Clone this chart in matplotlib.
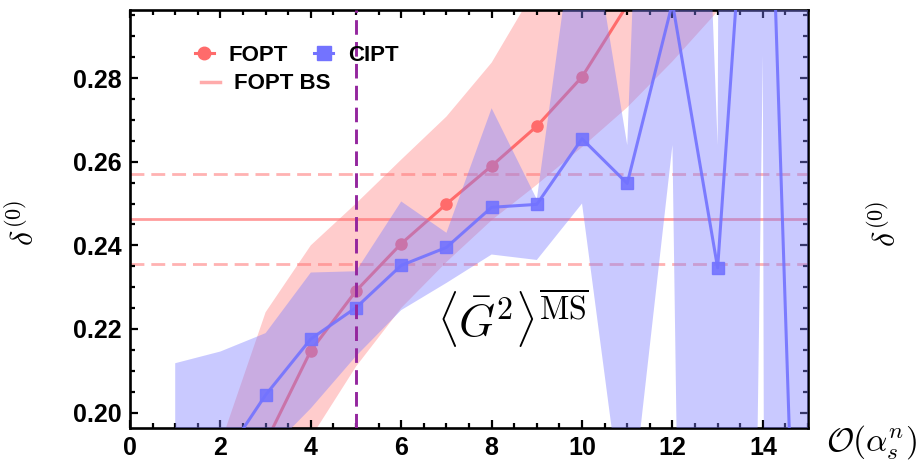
import matplotlib
matplotlib.use("Agg")
import matplotlib.pyplot as plt
from matplotlib.lines import Line2D
from matplotlib.ticker import MultipleLocator, FormatStrFormatter

plt.rcParams["font.family"] = ["Liberation Sans", "DejaVu Sans"]
plt.rcParams["font.weight"] = "bold"
plt.rcParams["mathtext.fontset"] = "cm"

# FOPT central values
fopt_n = [3, 4, 5, 6, 7, 8, 9, 10, 11]
fopt_val = [0.1928, 0.2148, 0.2291, 0.2404, 0.2499, 0.2590, 0.2685, 0.2803, 0.2975]

# FOPT band edges
fopt_band_n = [2, 3, 4, 5, 6, 7, 8, 9, 10, 11, 12, 13, 14, 15]
fopt_lo = [0.150, 0.175, 0.194, 0.211, 0.225, 0.236, 0.246, 0.2545, 0.2635, 0.273, 0.284, 0.296, 0.310, 0.325]
fopt_hi = [0.1925, 0.224, 0.240, 0.250, 0.2605, 0.2708, 0.2837, 0.302, 0.320, 0.340, 0.360, 0.380, 0.400, 0.420]

# CIPT central values and band edges
cipt_n = [1, 2, 3, 4, 5, 6, 7, 8, 9, 10, 11, 12, 13, 14, 15]
cipt_val = [0.175, 0.188, 0.2042, 0.2176, 0.2251, 0.2352, 0.2395, 0.2491, 0.2498, 0.2655, 0.2548, 0.2980, 0.2346, 0.390, 0.058]
cipt_hi = [0.2118, 0.2146, 0.219, 0.2335, 0.2338, 0.2505, 0.2430, 0.2728, 0.2510, 0.330, 0.264, 0.550, 0.264, 3.0, 1.0]
cipt_lo = [0.150, 0.165, 0.190, 0.201, 0.2135, 0.2245, 0.231, 0.2378, 0.2365, 0.250, 0.168, 0.264, -0.488, 0.2855, -4.0]

# FOPT Borel sum value and its error
bs_central = 0.2463
bs_lo = 0.2356
bs_hi = 0.2570
n_cut = 5

red = (1.0, 0.42, 0.42)
blue = (0.45, 0.45, 1.0)
bs_col = (1.0, 0.45, 0.45)
purple = (0.58, 0.15, 0.62)

fig = plt.figure(figsize=(9.22, 4.63), dpi=100)
ax = fig.add_axes([0.1410, 0.0756, 0.7354, 0.9028])

ax.fill_between(fopt_band_n, fopt_lo, fopt_hi, color=(1, 0.5, 0.5), alpha=0.4, lw=0, zorder=1)
ax.axhline(bs_central, color=bs_col, alpha=0.7, lw=2.0, zorder=1.5)
for v in [bs_lo, bs_hi]:
    ax.axhline(v, color=bs_col, alpha=0.55, lw=2.0, dashes=(5, 2.5), zorder=1.5)
ax.plot(fopt_n, fopt_val, color=red, lw=2.2, marker="o", ms=8, zorder=2)
ax.fill_between(cipt_n, cipt_lo, cipt_hi, color=(0.5, 0.5, 1.0), alpha=0.42, lw=0, zorder=3)
ax.plot(cipt_n, cipt_val, color=blue, lw=2.2, marker="s", ms=8.5, alpha=0.9, zorder=4)
ax.axvline(n_cut, color=purple, lw=2.1, dashes=(5, 2.5), zorder=5)

ax.set_xlim(0, 15)
ax.set_ylim(0.1963, 0.2963)
ax.xaxis.set_major_locator(MultipleLocator(2))
ax.xaxis.set_minor_locator(MultipleLocator(0.5))
ax.yaxis.set_major_locator(MultipleLocator(0.02))
ax.yaxis.set_minor_locator(MultipleLocator(0.005))
ax.yaxis.set_major_formatter(FormatStrFormatter("%.2f"))
ax.tick_params(which="both", direction="in", top=True, right=True, width=1.6)
ax.tick_params(which="major", length=6, labelsize=18, pad=6)
ax.tick_params(which="minor", length=3.5)
for lab in ax.get_xticklabels() + ax.get_yticklabels():
    lab.set_fontweight("bold")
for s in ax.spines.values():
    s.set_linewidth(1.9)

ax.text(6.8, 0.2226, r"$\langle \bar{G}^2 \rangle^{\overline{\mathrm{MS}}}$", fontsize=33, ha="left", va="center")

fig.text(24 / 922, 1 - 223 / 463, r"$\delta^{(0)}$", fontsize=23, rotation=90, ha="center", va="center")
fig.text(886 / 922, 1 - 224 / 463, r"$\delta^{(0)}$", fontsize=23, rotation=90, ha="center", va="center")
fig.text(826 / 922, 1 - 443 / 463, r"$\mathcal{O}(\alpha_s^n)$", fontsize=24, ha="left", va="center")

h_fopt = Line2D([], [], color=red, lw=2.2, marker="o", ms=9)
h_cipt = Line2D([], [], color=blue, lw=2.2, marker="s", ms=10)
h_bs = Line2D([], [], color=bs_col, alpha=0.6, lw=2.5)
leg1 = ax.legend([h_fopt, h_cipt], ["FOPT", "CIPT"], ncol=2, loc="center left",
                 bbox_to_anchor=(0.0959, 0.892), frameon=False, borderpad=0, borderaxespad=0,
                 handlelength=0.85, handletextpad=0.65, columnspacing=1.2,
                 prop={"size": 16, "weight": "bold"})
ax.add_artist(leg1)
ax.legend([h_bs], ["FOPT BS"], loc="center left", bbox_to_anchor=(0.1047, 0.823),
          frameon=False, borderpad=0, borderaxespad=0, handlelength=0.85, handletextpad=0.65,
          prop={"size": 16, "weight": "bold"})

fig.savefig("out.png", dpi=100)
